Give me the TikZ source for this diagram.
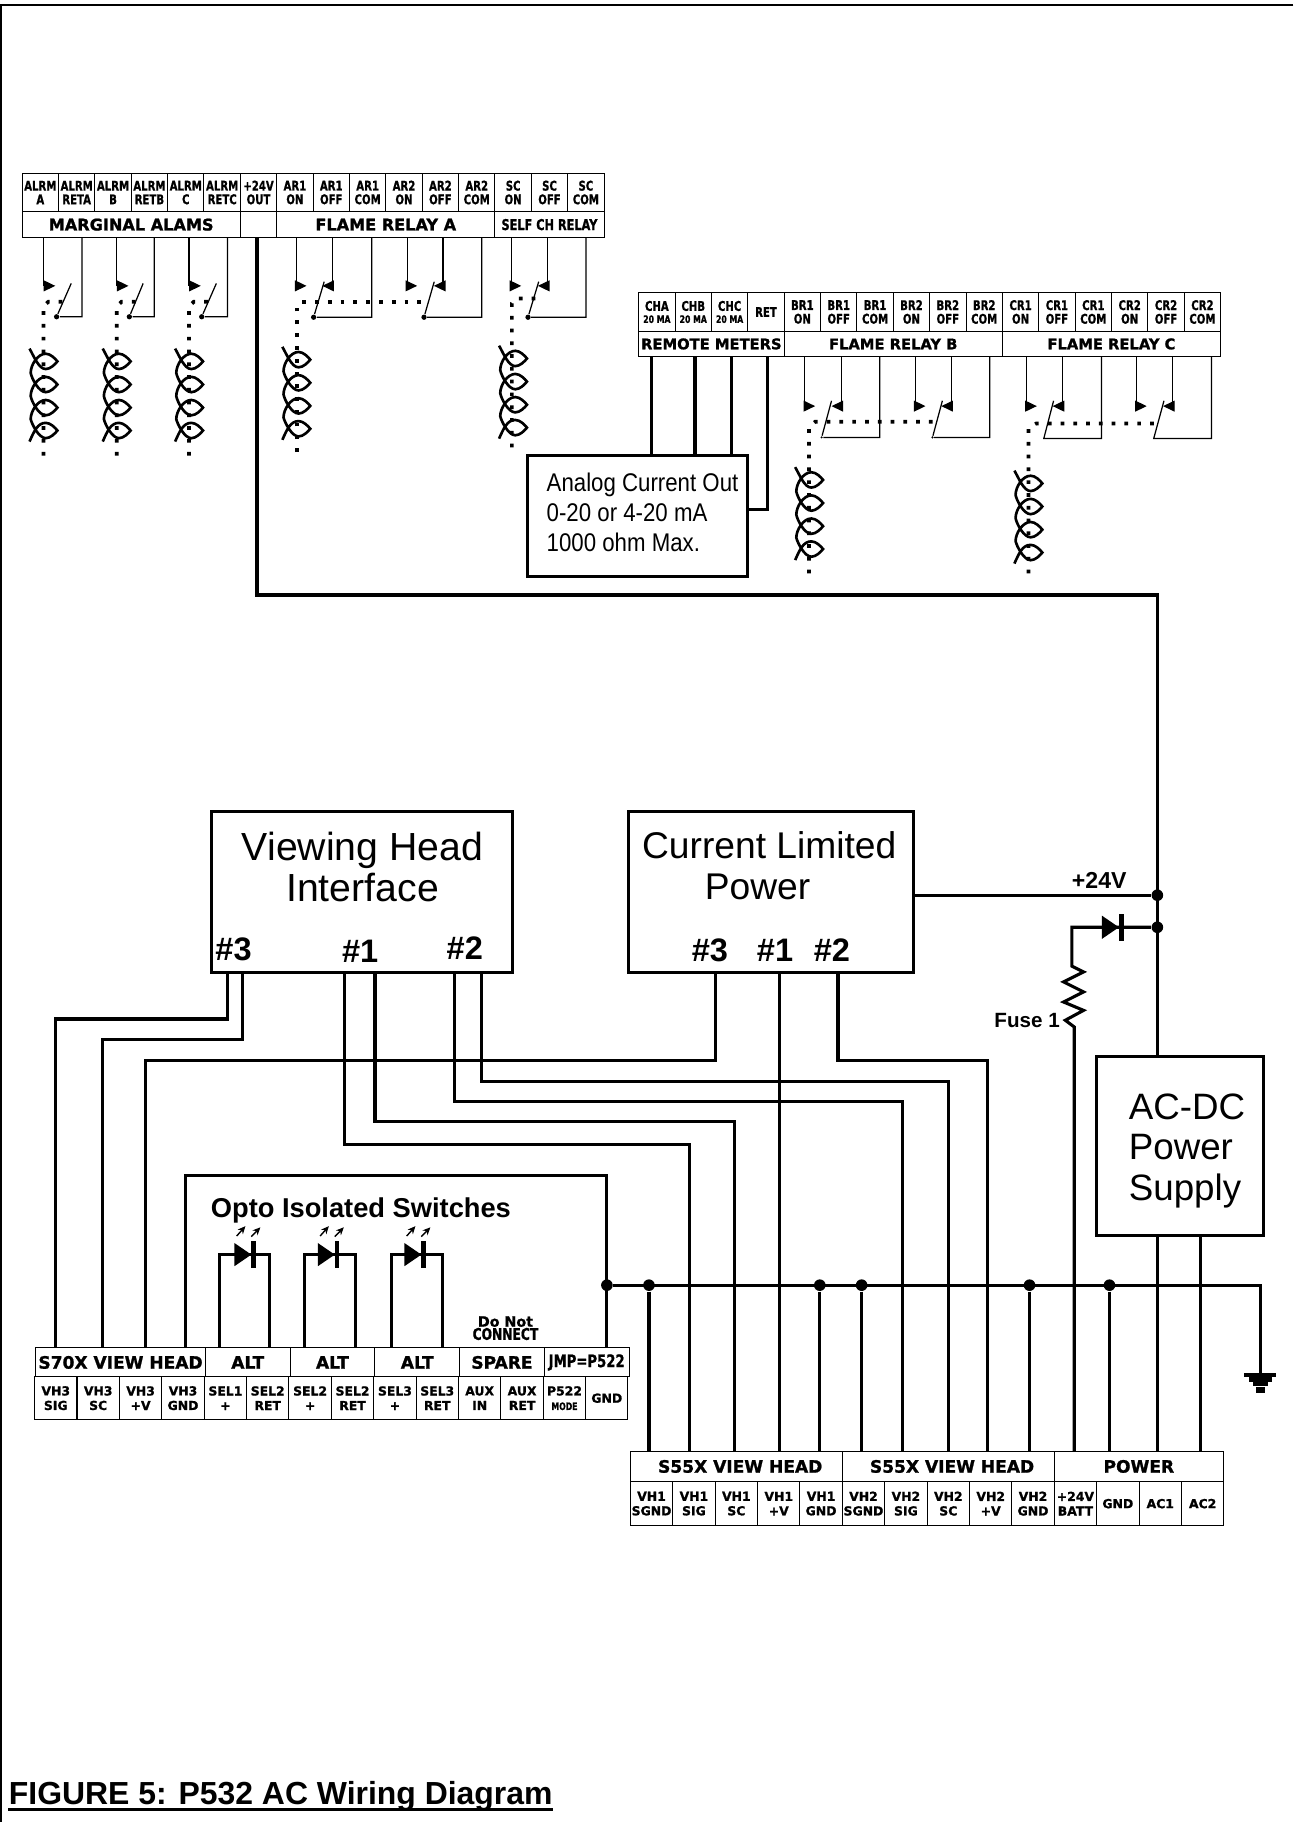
\documentclass[tikz,border=0pt]{standalone}
\usepackage{fontspec}
\usetikzlibrary{arrows.meta}
\setmainfont{Liberation Sans}
\newfontfamily\termfam[FakeStretch=0.76,BoldFeatures={FakeStretch=0.76,FakeBold=0.9}]{DejaVu Sans}
\newfontfamily\barfam[BoldFeatures={FakeBold=1.2}]{DejaVu Sans}
\newfontfamily\analogfam[FakeStretch=0.87]{Liberation Sans}
\newcommand{\toplabel}{\termfam\bfseries\fontsize{8.6}{8.8}\selectfont}
\newcommand{\tinylabel}{\termfam\bfseries\fontsize{6.6}{7}\selectfont}
\newcommand{\barlabel}{\barfam\bfseries\fontsize{10.4}{11}\selectfont}
\newcommand{\headlabel}{\barfam\bfseries\fontsize{11}{12}\selectfont}
\newcommand{\narrowlabel}{\termfam\bfseries\fontsize{9.6}{10}\selectfont}
\newcommand{\lowlabel}{\barfam\bfseries\fontsize{8}{9.4}\selectfont}
\tikzset{every picture/.style={line width=0.75pt},
  every pic/.style={yscale=-1},
  cellbase/.style={draw,line width=0.65pt,inner sep=0pt,outer sep=0pt,align=center},
  topcell/.style={cellbase,minimum width=23.475pt,minimum height=24.75pt,font=\toplabel},
  topbar/.style={cellbase,minimum width=#1*0.75pt,minimum height=16.5pt,font=\barlabel},
  lowcell/.style={cellbase,minimum width=27.35pt,minimum height=#1*0.75pt,font=\lowlabel},
  lowbar/.style 2 args={cellbase,minimum width=#1*0.75pt,minimum height=#2*0.75pt,font=\headlabel},
  bigbox/.style 2 args={draw,line width=2pt,inner sep=0pt,outer sep=0pt,minimum width=#1*0.75pt,minimum height=#2*0.75pt},
  boxlabel/.style={inner sep=0pt,align=center,font=\fontsize{24}{26.3}\selectfont},
  portlabel/.style={inner sep=0pt,font=\bfseries\fontsize{21}{22}\selectfont},
  wire/.style={line width=2pt},
  rwire/.style={line width=0.8pt},
  rarrow/.style={rwire,-{Triangle[length=7.5pt,width=7pt]}},
  dotted wire/.style={line width=2.4pt,dash pattern=on 2.4pt off 5.85pt},
  pivot/.style={circle,fill,inner sep=0pt,minimum size=3.4pt},
  jdot/.style={circle,fill,inner sep=0pt,minimum size=7.5pt},
  twisted/.pic={
    \draw [line width=1.7pt] (-12,-11) .. controls (-8,-4) and (-4,6.6) .. (2,6.6) .. controls (6,6.6) and (10,2.5) .. (12,0) .. controls (10,-2.5) and (6,-6.6) .. (2,-6.6) .. controls (-5,-6.6) and (-11,3) .. (-11,10)
      .. controls (-10,15) and (-4,26.5) .. (2,26.5) .. controls (6,26.5) and (10,22.4) .. (12,19.9) .. controls (10,17.4) and (6,13.3) .. (2,13.3) .. controls (-5,13.3) and (-11,23) .. (-11,29.9)
      .. controls (-10,35) and (-4,46.4) .. (2,46.4) .. controls (6,46.4) and (10,42.3) .. (12,39.8) .. controls (10,37.3) and (6,33.2) .. (2,33.2) .. controls (-5,33.2) and (-11,43) .. (-11,49.7)
      .. controls (-10,54) and (-4,66.1) .. (2,66.1) .. controls (6,66.1) and (10,62) .. (12,59.5) .. controls (10,57) and (6,52.9) .. (2,52.9) .. controls (-5,52.9) and (-8,60) .. (-12,69) ;
  },
  diode/.pic={
    \fill (0,-10) -- (14.6,0) -- (0,10) -- cycle ;
    \fill (14.6,-11.5) rectangle (18.6,11.5) ;
  },
  led/.pic={
    \pic {diode} ;
    \draw [line width=0.9pt,-{Stealth[length=5pt,width=4.5pt]}] (2,-16) -- (9.5,-24.5) ;
    \draw [line width=0.9pt,-{Stealth[length=5pt,width=4.5pt]}] (14.6,-15.5) -- (22.4,-23.5) ;
  },
  groundsym/.pic={
    \fill (-13.8,0) rectangle (13.8,3.4) ;
    \fill (-10,3.4) rectangle (10,7.2) ;
    \fill (-6.5,7.2) rectangle (6.5,10.6) ;
    \fill (-4,11.5) rectangle (4,17.2) ;
  }
}
\begin{document}
\begin{tikzpicture}[x=0.75pt,y=0.75pt,yscale=-1,xscale=1]
\useasboundingbox (0,0) rectangle (1113,1568);

%Shape: Page frame
\draw [line width=1.5pt] (1113,4.3) -- (1,4.3) -- (1,1568) ;

% Upper left terminal strip
\node [topcell] (alrma) at (34.7,165.7) {ALRM\\A};
\node [topcell] (reta) at (66,165.7) {ALRM\\RETA};
\node [topcell] (alrmb) at (97.3,165.7) {ALRM\\B};
\node [topcell] (retb) at (128.6,165.7) {ALRM\\RETB};
\node [topcell] (alrmc) at (159.9,165.7) {ALRM\\C};
\node [topcell] (retc) at (191.2,165.7) {ALRM\\RETC};
\node [topcell] (out24) at (222.5,165.7) {+24V\\OUT};
\node [topcell] (ar1on) at (253.8,165.7) {AR1\\ON};
\node [topcell] (ar1off) at (285.1,165.7) {AR1\\OFF};
\node [topcell] (ar1com) at (316.4,165.7) {AR1\\COM};
\node [topcell] (ar2on) at (347.7,165.7) {AR2\\ON};
\node [topcell] (ar2off) at (379,165.7) {AR2\\OFF};
\node [topcell] (ar2com) at (410.3,165.7) {AR2\\COM};
\node [topcell] (scon) at (441.6,165.7) {SC\\ON};
\node [topcell] (scoff) at (472.9,165.7) {SC\\OFF};
\node [topcell] (sccom) at (504.2,165.7) {SC\\COM};
\node [topbar=187.8] (marginal) at (112.9,193.3) {MARGINAL ALAMS};
\node [topbar=31.3] (blankbar) at (222.45,193.3) {};
\node [topbar=187.8] (flamea) at (332,193.3) {FLAME RELAY A};
\node [topbar=93.9,font=\narrowlabel] (selfch) at (472.9,193.3) {SELF CH RELAY};

% Upper right terminal strip
\node [topcell] (cha) at (565.3,268.5) {CHA\\[-1pt]{\tinylabel 20 MA}};
\node [topcell] (chb) at (596.6,268.5) {CHB\\[-1pt]{\tinylabel 20 MA}};
\node [topcell] (chc) at (627.9,268.5) {CHC\\[-1pt]{\tinylabel 20 MA}};
\node [topcell] (ret) at (659.2,268.5) {RET};
\node [topcell] (br1on) at (690.5,268.5) {BR1\\ON};
\node [topcell] (br1off) at (721.8,268.5) {BR1\\OFF};
\node [topcell] (br1com) at (753.1,268.5) {BR1\\COM};
\node [topcell] (br2on) at (784.4,268.5) {BR2\\ON};
\node [topcell] (br2off) at (815.7,268.5) {BR2\\OFF};
\node [topcell] (br2com) at (847,268.5) {BR2\\COM};
\node [topcell] (cr1on) at (878.3,268.5) {CR1\\ON};
\node [topcell] (cr1off) at (909.6,268.5) {CR1\\OFF};
\node [topcell] (cr1com) at (940.9,268.5) {CR1\\COM};
\node [topcell] (cr2on) at (972.2,268.5) {CR2\\ON};
\node [topcell] (cr2off) at (1003.5,268.5) {CR2\\OFF};
\node [topcell] (cr2com) at (1034.8,268.5) {CR2\\COM};
\node [topbar=125.2,font=\fontsize{9.5}{11}\barfam\bfseries] (remote) at (612.2,296) {REMOTE METERS};
\node [topbar=187.8,font=\fontsize{9.5}{11}\barfam\bfseries] (flameb) at (768.7,296) {FLAME RELAY B};
\node [topbar=187.8,font=\fontsize{9.5}{11}\barfam\bfseries] (flamec) at (956.5,296) {FLAME RELAY C};

% Lower left terminal strip
\node [lowbar={145.9}{25}] (s70x) at (103.75,1172.5) {S70X VIEW HEAD};
\node [lowbar={72.9}{25}] (alt1) at (213.2,1172.5) {ALT};
\node [lowbar={72.9}{25}] (alt2) at (286.1,1172.5) {ALT};
\node [lowbar={72.9}{25}] (alt3) at (359.1,1172.5) {ALT};
\node [lowbar={72.9}{25}] (spare) at (432,1172.5) {SPARE};
\node [lowbar={72.9}{25}] (jmpbar) at (504.9,1172.5) {\narrowlabel\fontsize{11.2}{12}\selectfont JMP=P522};
\node [lowcell=36.5] (vh3sig) at (48,1203.25) {VH3\\SIG};
\node [lowcell=36.5] (vh3sc) at (84.5,1203.25) {VH3\\SC};
\node [lowcell=36.5] (vh3v) at (121,1203.25) {VH3\\+V};
\node [lowcell=36.5] (vh3gnd) at (157.5,1203.25) {VH3\\GND};
\node [lowcell=36.5] (sel1p) at (194,1203.25) {SEL1\\+};
\node [lowcell=36.5] (sel1r) at (230.4,1203.25) {SEL2\\RET};
\node [lowcell=36.5] (sel2p) at (266.9,1203.25) {SEL2\\+};
\node [lowcell=36.5] (sel2r) at (303.4,1203.25) {SEL2\\RET};
\node [lowcell=36.5] (sel3p) at (339.9,1203.25) {SEL3\\+};
\node [lowcell=36.5] (sel3r) at (376.3,1203.25) {SEL3\\RET};
\node [lowcell=36.5] (auxin) at (412.8,1203.25) {AUX\\IN};
\node [lowcell=36.5] (auxret) at (449.3,1203.25) {AUX\\RET};
\node [lowcell=36.5] (p522) at (485.8,1203.25) {P522\\{\tinylabel MODE}};
\node [lowcell=36.5] (jmpgnd) at (522.2,1203.25) {GND};

% Lower right terminal strip
\node [lowbar={182.35}{26}] (s55a) at (633.7,1262) {\hspace{5pt}S55X VIEW HEAD};
\node [lowbar={182.35}{26}] (s55b) at (816,1262) {\hspace{5pt}S55X VIEW HEAD};
\node [lowbar={145.9}{26}] (power) at (980.1,1262) {POWER};
\node [lowcell=38] (vh1sgnd) at (560.7,1294) {VH1\\SGND};
\node [lowcell=38] (vh1sig) at (597.2,1294) {VH1\\SIG};
\node [lowcell=38] (vh1sc) at (633.7,1294) {VH1\\SC};
\node [lowcell=38] (vh1v) at (670.2,1294) {VH1\\+V};
\node [lowcell=38] (vh1gnd) at (706.6,1294) {VH1\\GND};
\node [lowcell=38] (vh2sgnd) at (743.1,1294) {VH2\\SGND};
\node [lowcell=38] (vh2sig) at (779.6,1294) {VH2\\SIG};
\node [lowcell=38] (vh2sc) at (816.1,1294) {VH2\\SC};
\node [lowcell=38] (vh2v) at (852.6,1294) {VH2\\+V};
\node [lowcell=38] (vh2gnd) at (889,1294) {VH2\\GND};
\node [lowcell=38] (batt) at (925.5,1294) {+24V\\BATT};
\node [lowcell=38] (pgnd) at (962,1294) {GND};
\node [lowcell=38] (ac1) at (998.5,1294) {AC1};
\node [lowcell=38] (ac2) at (1035,1294) {AC2};

% Boxes
\node [bigbox={189.6}{104.2}] (analog) at (548.6,444.3) {};
\node [anchor=west,inner sep=0pt,align=left,font=\analogfam\fontsize{16.5}{19.5}\selectfont] (analogtext) at (470,441) {Analog Current Out\\0-20 or 4-20 mA\\1000 ohm Max.};
\node [bigbox={259}{138.5}] (vh) at (311.6,767.5) {};
\node [boxlabel,font=\fontsize{25.3}{26.3}\selectfont] (vhtext) at (312,746) {Viewing Head\\Interface};
\node [portlabel] (vhp3) at (201,817) {\#3};
\node [portlabel] (vhp1) at (310,819) {\#1};
\node [portlabel] (vhp2) at (400,816) {\#2};
\node [bigbox={245}{138.5}] (cl) at (663.5,767.5) {};
\node [boxlabel] (cltext) at (662,727) {Current Limited};
\node [boxlabel] (clpower) at (652,763) {Power};
\node [portlabel] (clp3) at (611,818) {\#3};
\node [portlabel] (clp1) at (667,818) {\#1};
\node [portlabel] (clp2) at (716,818) {\#2};
\node [bigbox={143}{154}] (acdc) at (1015.5,986) {};
\node [boxlabel,anchor=west,align=left,font=\fontsize{23.7}{26.3}\selectfont] (acdctext) at (971,990.5) {AC-DC\\Power\\Supply};

% Text Node
\node [inner sep=0pt,font=\bfseries\fontsize{14.9}{16}\selectfont] (v24) at (946,758) {+24V};
\node [anchor=east,inner sep=0pt,font=\bfseries\fontsize{13.3}{14}\selectfont] (fuse) at (912.5,878.5) {Fuse 1};
\node [anchor=west,inner sep=0pt,font=\bfseries\fontsize{17.6}{19}\selectfont] (opto) at (181,1041.5) {Opto Isolated Switches};
\node [inner sep=0pt,align=center,font=\narrowlabel] (donot) at (435,1143) {{\barfam\fontsize{9.2}{9.5}\selectfont Do Not}\\[-1.5pt]{\fontsize{10.4}{10}\selectfont CONNECT}};
\node [anchor=base west,inner sep=0pt,font=\bfseries\fontsize{20.6}{22}\selectfont] (title) at (7.2,1552.6) {FIGURE 5: P532 AC Wiring Diagram};
\draw [line width=2.1pt] ([yshift=3.4pt]title.base west) -- ([yshift=3.4pt]title.base east) ;

%Straight Lines: marginal alarm relays
\coordinate (a1c) at (37.4,246); \coordinate (a1on) at (47.6,246); \coordinate (a1r) at (70.5,272.6); \coordinate (a1t) at (61.3,243.9);
\node [pivot] (a1p) at (48.7,272.6) {};
\draw [rarrow] (marginal.south -| a1c) -- (a1c) -- (a1on) ;
\draw [rwire] (marginal.south -| a1r) -- (a1r) -- (a1p) -- (a1t) ;
\coordinate (a2c) at (100.4,246); \coordinate (a2on) at (110.6,246); \coordinate (a2r) at (132.7,272.6); \coordinate (a2t) at (123.2,243.9);
\node [pivot] (a2p) at (111.3,272.6) {};
\draw [rarrow] (marginal.south -| a2c) -- (a2c) -- (a2on) ;
\draw [rwire] (marginal.south -| a2r) -- (a2r) -- (a2p) -- (a2t) ;
\coordinate (a3c) at (162.6,246); \coordinate (a3on) at (172.8,246); \coordinate (a3r) at (195.7,272.6); \coordinate (a3t) at (186.2,243.9);
\node [pivot] (a3p) at (173.6,272.6) {};
\draw [rarrow] (marginal.south -| a3c) -- (a3c) -- (a3on) ;
\draw [rwire] (marginal.south -| a3r) -- (a3r) -- (a3p) -- (a3t) ;

%Straight Lines: flame relay A
\coordinate (b1c) at (255.3,246); \coordinate (b1on) at (263.8,246); \coordinate (b1o) at (285.9,246); \coordinate (b1off) at (277.4,246); \coordinate (b1r) at (320,273); \coordinate (b1t) at (279,242.4);
\node [pivot] (b1p) at (269.9,273) {};
\draw [rarrow] (flamea.south -| b1c) -- (b1c) -- (b1on) ;
\draw [rarrow] (flamea.south -| b1o) -- (b1o) -- (b1off) ;
\draw [rwire] (flamea.south -| b1r) -- (b1r) -- (b1p) -- (b1t) ;
\coordinate (b2c) at (350.6,246); \coordinate (b2on) at (359,246); \coordinate (b2o) at (381.2,246); \coordinate (b2off) at (373.4,246); \coordinate (b2r) at (414.6,273); \coordinate (b2t) at (373.7,242.4);
\node [pivot] (b2p) at (364.9,273) {};
\draw [rarrow] (flamea.south -| b2c) -- (b2c) -- (b2on) ;
\draw [rarrow] (flamea.south -| b2o) -- (b2o) -- (b2off) ;
\draw [rwire] (flamea.south -| b2r) -- (b2r) -- (b2p) -- (b2t) ;

%Straight Lines: self check relay
\coordinate (c1c) at (440.1,246); \coordinate (c1on) at (448.6,246); \coordinate (c1o) at (471.4,246); \coordinate (c1off) at (462.9,246); \coordinate (c1r) at (504.4,273); \coordinate (c1t) at (463.6,242.4);
\node [pivot] (c1p) at (454.4,273) {};
\draw [rarrow] (selfch.south -| c1c) -- (c1c) -- (c1on) ;
\draw [rarrow] (selfch.south -| c1o) -- (c1o) -- (c1off) ;
\draw [rwire] (selfch.south -| c1r) -- (c1r) -- (c1p) -- (c1t) ;

%Straight Lines: flame relay B
\coordinate (d1c) at (692.3,349.5); \coordinate (d1on) at (701.5,349.5); \coordinate (d1o) at (724,349.5); \coordinate (d1off) at (715.6,349.5); \coordinate (d1r) at (757.2,376.4); \coordinate (d1t) at (715.6,344.9);
\node [pivot,minimum size=1.5pt] (d1p) at (707.1,376.4) {};
\draw [rarrow] (flameb.south -| d1c) -- (d1c) -- (d1on) ;
\draw [rarrow] (flameb.south -| d1o) -- (d1o) -- (d1off) ;
\draw [rwire] (flameb.south -| d1r) -- (d1r) -- (d1p) -- (d1t) ;
\coordinate (d2c) at (787.7,349.5); \coordinate (d2on) at (796.5,349.5); \coordinate (d2o) at (818.6,349.5); \coordinate (d2off) at (810.1,349.5); \coordinate (d2r) at (851.8,376.4); \coordinate (d2t) at (811,344.9);
\node [pivot,minimum size=1.5pt] (d2p) at (802.5,376.4) {};
\draw [rarrow] (flameb.south -| d2c) -- (d2c) -- (d2on) ;
\draw [rarrow] (flameb.south -| d2o) -- (d2o) -- (d2off) ;
\draw [rwire] (flameb.south -| d2r) -- (d2r) -- (d2p) -- (d2t) ;

%Straight Lines: flame relay C
\coordinate (e1c) at (883.1,349.5); \coordinate (e1on) at (892.3,349.5); \coordinate (e1o) at (914.3,349.5); \coordinate (e1off) at (905.9,349.5); \coordinate (e1r) at (948,377.3); \coordinate (e1p) at (898.3,377.3); \coordinate (e1t) at (906.7,344.9);
\draw [rarrow] (flamec.south -| e1c) -- (e1c) -- (e1on) ;
\draw [rarrow] (flamec.south -| e1o) -- (e1o) -- (e1off) ;
\draw [rwire] (flamec.south -| e1r) -- (e1r) -- (e1p) -- (e1t) ;
\coordinate (e2c) at (978,349.5); \coordinate (e2on) at (986.9,349.5); \coordinate (e2o) at (1008.9,349.5); \coordinate (e2off) at (1000.9,349.5); \coordinate (e2r) at (1042.6,377.3); \coordinate (e2p) at (992.9,377.3); \coordinate (e2t) at (1001.7,344.9);
\draw [rarrow] (flamec.south -| e2c) -- (e2c) -- (e2on) ;
\draw [rarrow] (flamec.south -| e2o) -- (e2o) -- (e2off) ;
\draw [rwire] (flamec.south -| e2r) -- (e2r) -- (e2p) -- (e2t) ;

% Dotted links and twisted pairs
\draw [dotted wire] (37.4,392) -- (37.4,263.5) -- (41.6,259.7) -- (54,259.7) ;
\draw [dotted wire] (100.4,392) -- (100.4,263.5) -- (104.6,259.7) -- (117,259.7) ;
\draw [dotted wire] (162.6,392) -- (162.6,263.5) -- (166.8,259.7) -- (179,259.7) ;
\draw [dotted wire] (255.3,389) -- (255.3,263.5) -- (259,259.7) -- (366,259.7) ;
\draw [dotted wire] (440.5,385) -- (440.5,261) -- (444,256.8) -- (464.6,256.8) ;
\draw [dotted wire] (696.3,493.5) -- (696.3,367) -- (701.5,363) -- (804.5,363) ;
\draw [dotted wire] (885.1,493.5) -- (885.1,368) -- (891.9,364.4) -- (995.3,364.4) ;
\pic at (37.4,311) {twisted};
\pic at (100.4,311) {twisted};
\pic at (162.7,311) {twisted};
\pic at (255,309.5) {twisted};
\pic at (441.5,308.5) {twisted};
\pic at (696.3,413) {twisted};
\pic at (885,416) {twisted};

% Remote meter wires
\draw [wire] (remote.south -| 560.4,0) -- (analog.north -| 560.4,0) ;
\draw [wire] (remote.south -| 598.1,0) -- (analog.north -| 598.1,0) ;
\draw [wire] (remote.south -| 629.4,0) -- (analog.north -| 629.4,0) ;
\coordinate (retc1) at (660.6,438.4);
\draw [wire] (remote.south -| retc1) -- (retc1) -- (retc1 -| analog.east) ;

% Supply wires
\coordinate (out1) at (221.2,512); \coordinate (out2) at (996,512);
\node [jdot] (j24) at (996,770.4) {};
\node [jdot] (jdiode) at (996,798) {};
\draw [wire] (blankbar.south -| out1) -- (out1) -- (out2) -- (acdc.north -| out2) ;
\draw [wire] (j24 -| cl.east) -- (j24) ;
\coordinate (dcorner) at (922.5,798); \coordinate (fusetop) at (922.5,831.5); \coordinate (fuseend) at (924.5,883.8);
\draw [wire,line join=miter] (jdiode) -- (dcorner) -- (fusetop) -- (932.5,836.4) -- (915.3,845) -- (932.5,853.6) -- (915.3,862.3) -- (932.5,869.5) -- (916.8,878) -- (fuseend) -- (fuseend |- power.north) ;
\pic at (948.3,798) {diode};

% Viewing head and current limited wires
\coordinate (w70a) at (47.9,1160); \coordinate (w70b) at (88,1160); \coordinate (w70c) at (125.2,1160); \coordinate (w70d) at (159.3,1160);
\coordinate (vh3a) at (195.5,876.9); \coordinate (vh3b) at (208.9,894.4); \coordinate (cl3) at (615.8,912.7);
\coordinate (vh1a) at (296.7,984.7); \coordinate (vh1b) at (322.7,965.5); \coordinate (vh2a) at (391.5,947.7); \coordinate (vh2b) at (414.1,930.5);
\coordinate (cl1) at (671.2,1249); \coordinate (cl2) at (721.2,912.7);
\coordinate (w55a) at (593.7,1249); \coordinate (w55b) at (632.4,1249); \coordinate (w55c) at (776.6,1249); \coordinate (w55d) at (816.5,1249); \coordinate (w55e) at (850.2,1249);
\draw [wire] (vh.south -| vh3a) -- (vh3a) -- (vh3a -| w70a) -- (w70a) ;
\draw [wire] (vh.south -| vh3b) -- (vh3b) -- (vh3b -| w70b) -- (w70b) ;
\draw [wire] (cl.south -| cl3) -- (cl3) -- (cl3 -| w70c) -- (w70c) ;
\draw [wire] (vh.south -| vh1a) -- (vh1a) -- (vh1a -| w55a) -- (w55a) ;
\draw [wire] (vh.south -| vh1b) -- (vh1b) -- (vh1b -| w55b) -- (w55b) ;
\draw [wire] (vh.south -| vh2a) -- (vh2a) -- (vh2a -| w55c) -- (w55c) ;
\draw [wire] (vh.south -| vh2b) -- (vh2b) -- (vh2b -| w55d) -- (w55d) ;
\draw [wire] (cl.south -| cl1) -- (cl1) ;
\draw [wire] (cl.south -| cl2) -- (cl2) -- (cl2 -| w55e) -- (w55e) ;

% Ground bus
\node [jdot] (jjmp) at (522.3,1106) {};
\node [jdot] (j55a) at (558.5,1106) {};
\node [jdot] (j55b) at (705.5,1106) {};
\node [jdot] (j55c) at (741.5,1106) {};
\node [jdot] (j55d) at (886,1106) {};
\node [jdot] (j55e) at (954.8,1106) {};
\coordinate (gndpt) at (1084.5,1182);
\draw [wire] (jjmp) -- (jjmp -| gndpt) -- (gndpt) ;
\pic at (gndpt) {groundsym};
\draw [wire] (j55a) -- (j55a |- s55a.north) ;
\draw [wire] (j55b) -- (j55b |- s55a.north) ;
\draw [wire] (j55c) -- (j55c |- s55b.north) ;
\draw [wire] (j55d) -- (j55d |- s55b.north) ;
\draw [wire] (j55e) -- (j55e |- power.north) ;
\draw [wire] (acdc.south -| 996.4,0) -- (power.north -| 996.4,0) ;
\draw [wire] (acdc.south -| 1032.8,0) -- (power.north -| 1032.8,0) ;

% Opto isolated switches
\coordinate (optol) at (159.3,1011.4); \coordinate (optor) at (522.3,1011.4);
\draw [wire] (w70d) -- (optol) -- (optor) -- (jmpbar.north -| optor) ;
\coordinate (led1l) at (189.1,1079.7); \coordinate (led1r) at (231.6,1079.7);
\coordinate (led2l) at (262.3,1079.7); \coordinate (led2r) at (305.8,1079.7);
\coordinate (led3l) at (337.1,1079.7); \coordinate (led3r) at (380.7,1079.7);
\draw [wire] (alt1.north -| led1l) -- (led1l) -- (led1r) -- (alt1.north -| led1r) ;
\draw [wire] (alt2.north -| led2l) -- (led2l) -- (led2r) -- (alt2.north -| led2r) ;
\draw [wire] (alt3.north -| led3l) -- (led3l) -- (led3r) -- (alt3.north -| led3r) ;
\pic at (201.7,1079.7) {led};
\pic at (273.5,1079.7) {led};
\pic at (348,1079.7) {led};

\end{tikzpicture}
\end{document}
